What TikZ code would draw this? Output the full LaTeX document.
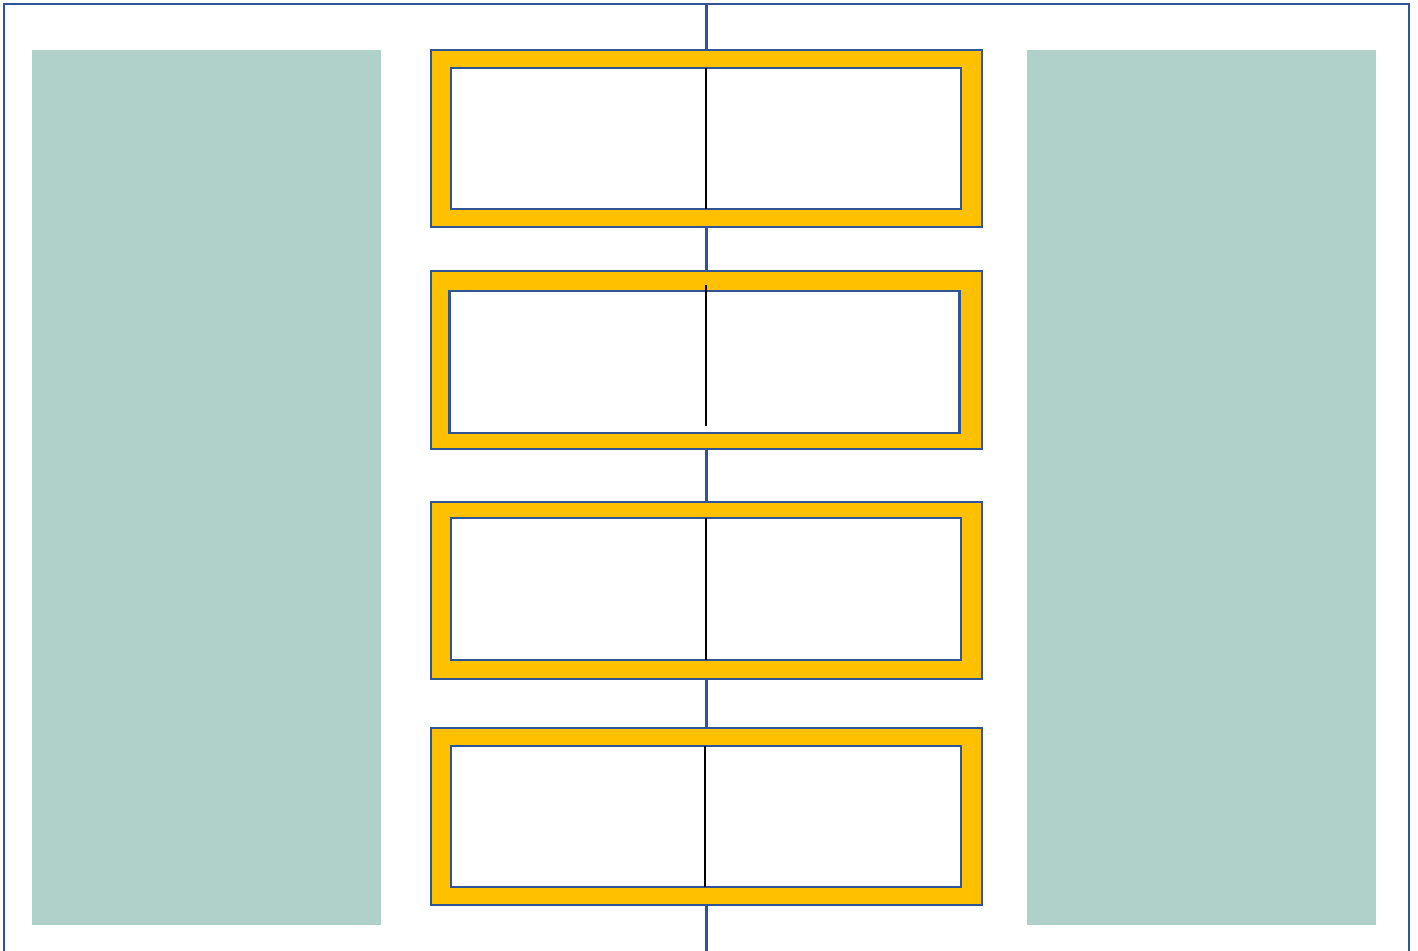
\documentclass[tikz,border=0pt]{standalone}
\usepackage{tikz}
\usetikzlibrary{positioning}
\definecolor{frameblue}{HTML}{2F5597}
\definecolor{panelteal}{HTML}{B0D0CA}
\definecolor{boxyellow}{HTML}{FFC000}

\begin{document}
\begin{tikzpicture}[x=0.5pt, y=-0.5pt,
		panel/.style={rectangle, fill=panelteal, inner sep=0pt, minimum width=174.5pt, minimum height=437.5pt},
		outerbox/.style={rectangle, draw=frameblue, fill=boxyellow, line width=1.3pt, inner sep=0pt, minimum width=275.5pt},
		innerbox/.style={rectangle, draw=frameblue, fill=white, line width=1.3pt, inner sep=0pt, minimum width=255pt},
		spine/.style={draw=frameblue, line width=1.2pt},
		divider/.style={draw=black, line width=1.2pt}]
			\useasboundingbox (0,0) rectangle (1418,951);
			% outer frame, open at the bottom
			\draw [spine] (4,951) -- (4,4) -- (1409,4) -- (1409,951);
			
			\node [panel] (left panel) at (206.5,487.5) {};
			\node [panel] (right panel) at (1201.5,487.5) {};
			
			\coordinate (top) at (706.5,4);
			\coordinate (bottom) at (706.5,951);
			
			% the four boxes: outer centre y, outer height, inner x, inner y, inner height, divider top, divider bottom, divider x
			\foreach \i/\oy/\oh/\ix/\iy/\ih/\dt/\db/\dx in {1/138.5/88.5/706/138.5/70.5/68/209/706,
					2/360/89/704.5/362/71/285/426/706,
					3/590.5/88.5/706/589/71/518/660/706,
					4/816.5/88.5/706/816.5/70.5/746/887/705}{
				\node [outerbox, minimum height=\oh pt] (box\i) at (706.5,\oy) {};
				\node [innerbox, minimum height=\ih pt] (inner\i) at (\ix,\iy) {};
				\draw [divider] (\dx,\dt) -- (\dx,\db);
			}
			
			\draw [spine] (top) -- (box1.north);
			\draw [spine] (box1.south) -- (box2.north);
			\draw [spine] (box2.south) -- (box3.north);
			\draw [spine] (box3.south) -- (box4.north);
			\draw [spine] (box4.south) -- (bottom);
		\end{tikzpicture}
\end{document}
